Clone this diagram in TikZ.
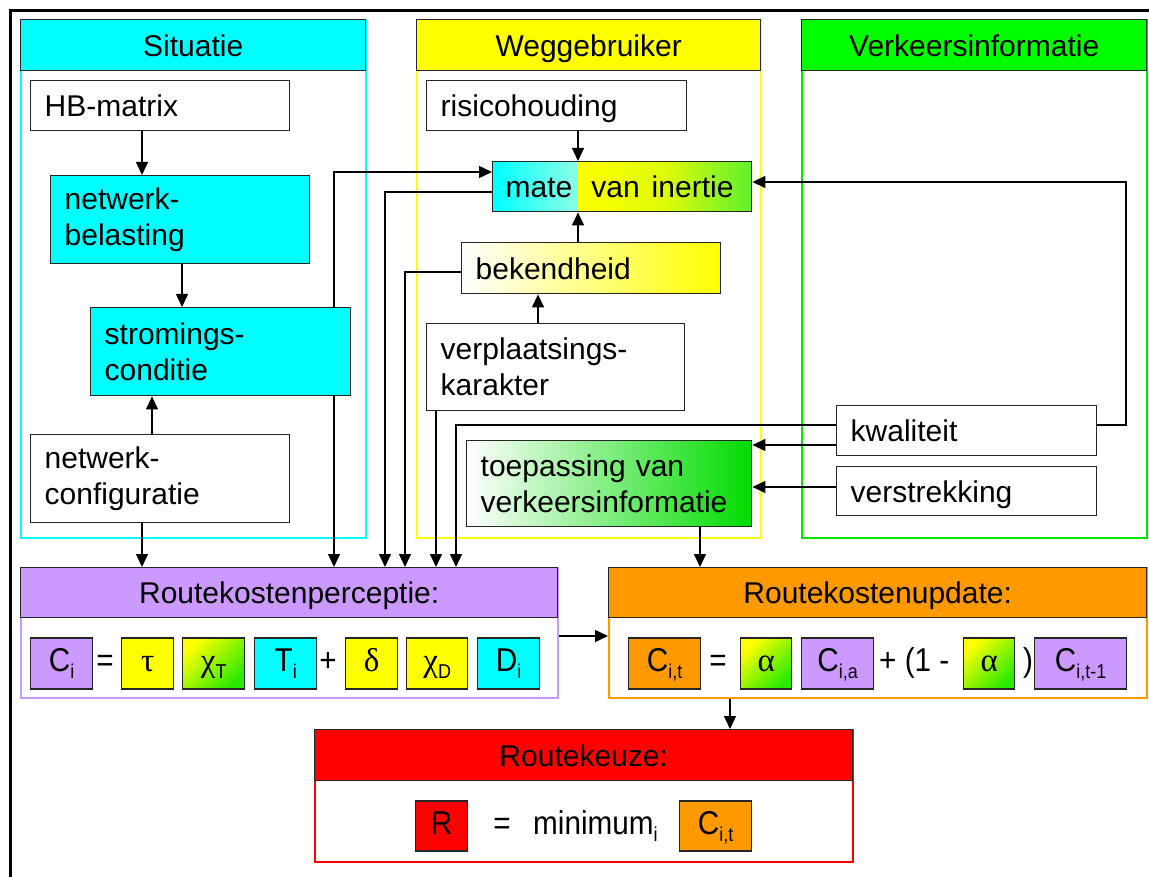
\documentclass[tikz,border=0pt]{standalone}
\usepackage{fontspec}
\setmainfont{Liberation Sans}
\newfontfamily\grk{Liberation Serif}
\newfontfamily\fmf[FakeStretch=0.9]{Liberation Sans}
\usetikzlibrary{arrows.meta}
\definecolor{cyn}{RGB}{0,255,255}
\definecolor{yel}{RGB}{255,255,0}
\definecolor{grn}{RGB}{0,255,0}
\definecolor{pnlgrn}{RGB}{0,230,0}
\definecolor{pur}{RGB}{204,153,255}
\definecolor{org}{RGB}{255,153,0}
\definecolor{rd}{RGB}{255,0,0}
\definecolor{mgrn}{RGB}{95,240,45}
\definecolor{dgrn}{RGB}{40,235,0}
\definecolor{tgrn}{RGB}{0,220,0}
\definecolor{mpale}{RGB}{215,255,215}
\newcommand{\sbs}[1]{\raisebox{-7pt}{\fontsize{20}{20}\selectfont #1}}
\begin{document}
\begin{tikzpicture}[x=1pt,y=-1pt,
  every node/.style={font=\fontsize{30}{36}\selectfont, inner sep=0pt},
  box/.style={draw=black!85, line width=1.4pt, anchor=north west, align=left, inner xsep=14pt, inner ysep=0pt},
  one/.style={text height=22, text depth=0},
  hdr/.style={draw=black!85, line width=1.4pt, anchor=north west, align=center, text height=22, text depth=0},
  panel/.style={line width=1.8pt, anchor=north west},
  fb/.style={draw=black!85, line width=1.4pt, anchor=west, minimum height=51, text height=24, text depth=8, font=\fmf\fontsize{33}{36}\selectfont},
  ft/.style={text height=24, text depth=8, font=\fmf\fontsize{33}{36}\selectfont},
  arr/.style={line width=1.3pt, -{Triangle[length=13pt,width=12pt]}},
  ln/.style={line width=1.3pt},
]
\useasboundingbox (0,0) rectangle (1149,877);
\fill[white] (0,0) rectangle (1149,877);

% coordinates for connector routing
\coordinate (c142) at (142,0);
\coordinate (c152) at (152,0);
\coordinate (c182) at (182,0);
\coordinate (c334) at (334,0);
\coordinate (c385) at (385,0);
\coordinate (c405) at (405,0);
\coordinate (c436) at (436,0);
\coordinate (c456) at (456,0);
\coordinate (c538) at (538,0);
\coordinate (c578) at (578,0);
\coordinate (c700) at (700,0);
\coordinate (c730) at (730,0);
\coordinate (c1126) at (1126,0);
\coordinate (y172) at (0,172);
\coordinate (y182) at (0,182);
\coordinate (y192) at (0,192);
\coordinate (y272) at (0,272);
\coordinate (y425) at (0,425);
\coordinate (y445) at (0,445);
\coordinate (y487) at (0,487);
\coordinate (y636) at (0,636);

% outer frame
\draw[line width=3.5pt] (10.5,890) -- (10.5,10.5) -- (1160,10.5);

% panels
\node[panel, draw=cyn, minimum width=345, minimum height=518] (sitp) at (20,19) {};
\node[panel, draw=yel, minimum width=344, minimum height=518] (wegp) at (416,19) {};
\node[panel, draw=pnlgrn, minimum width=345, minimum height=518] (vip) at (801,19) {};
\node[hdr, fill=cyn, minimum width=345, minimum height=51] (sit) at (20,19) {Situatie};
\node[hdr, fill=yel, minimum width=344, minimum height=51] (weg) at (416,19) {Weggebruiker};
\node[hdr, fill=grn, minimum width=345, minimum height=51] (vi) at (801,19) {Verkeersinformatie};

% situatie nodes
\node[box, one, fill=white, text width=231, minimum height=50] (hb) at (30,80) {HB-matrix};
\node[box, fill=cyn, text width=231, minimum height=88] (belast) at (50,175) {netwerk-\\belasting};
\node[box, fill=cyn, text width=232, minimum height=88] (strom) at (90,307) {stromings-\\conditie};
\node[box, fill=white, text width=231, minimum height=88] (config) at (30,434) {netwerk-\\configuratie};

% weggebruiker nodes
\node[box, one, fill=white, text width=232, minimum height=50] (risico) at (426,80) {risicohouding};
\node[box, one, inner xsep=13pt, text width=233, minimum height=50,
  path picture={
    \shade[left color=cyn, right color=yel!75!white, middle color=mpale]
      (path picture bounding box.north west) rectangle (path picture bounding box.south -| c578);
    \shade[left color=yel, right color=mgrn, middle color=yel!80!mgrn]
      (path picture bounding box.north -| c578) rectangle (path picture bounding box.south east);
  }] (mate) at (492,161) {mate\hspace{19pt}van\hspace{12pt}inertie};
\node[box, one, left color=white, right color=yel, text width=231, minimum height=51] (bek) at (461,242) {bekendheid};
\node[box, fill=white, text width=230, minimum height=87] (verpl) at (426,323) {verplaatsings-\\karakter};
\node[box, left color=white, right color=tgrn, text width=257, minimum height=86] (toep) at (466,440) {toepassing van\\verkeersinformatie};

% verkeersinformatie nodes
\node[box, one, fill=white, text width=232, minimum height=50] (kwal) at (836,405) {kwaliteit};
\node[box, one, fill=white, text width=232, minimum height=49] (verstr) at (836,466) {verstrekking};

% bottom blocks
\node[panel, draw=pur, minimum width=537, minimum height=130] (rkpp) at (20,567) {};
\node[hdr, fill=pur, minimum width=537, minimum height=50] (rkp) at (20,567) {Routekostenperceptie:};
\node[panel, draw=org, minimum width=538, minimum height=130] (rkup) at (608,567) {};
\node[hdr, fill=org, minimum width=538, minimum height=50] (rku) at (608,567) {Routekostenupdate:};
\node[panel, draw=rd, minimum width=538, minimum height=132] (rkzp) at (314,729) {};
\node[hdr, fill=rd, minimum width=538, minimum height=51] (rkz) at (314,729) {Routekeuze:};

% formula: route cost perception
\node[fb, fill=pur, minimum width=62] (ci) at (30,663.5) {C\sbs{i}};
\node[ft] (eqa) at (105,663.5) {=};
\node[fb, fill=yel, minimum width=52] (tau) at (121,663.5) {{\grk τ}};
\node[fb, top color=yel, bottom color=dgrn, shading angle=45, minimum width=62] (chit) at (182,663.5) {{\grk χ}\sbs{T}};
\node[fb, fill=cyn, minimum width=62] (ti) at (254,663.5) {T\sbs{i}};
\node[ft] (plusa) at (328,663.5) {+};
\node[fb, fill=yel, minimum width=52] (delta) at (345,663.5) {{\grk δ}};
\node[fb, fill=yel, minimum width=61] (chid) at (406,663.5) {{\grk χ}\sbs{D}};
\node[fb, fill=cyn, minimum width=62] (di) at (477,663.5) {D\sbs{i}};

% formula: route cost update
\node[fb, fill=org, minimum width=72] (cit) at (628,663.5) {C\sbs{i,t}};
\node[ft] (eqb) at (718,663.5) {=};
\node[fb, top color=yel, bottom color=dgrn, shading angle=45, minimum width=51] (alpa) at (740,663.5) {{\grk α}};
\node[fb, fill=pur, minimum width=72] (cia) at (801,663.5) {C\sbs{i,a}};
\node[ft, anchor=west] (onem) at (879,663.5) {+ (1 -};
\node[fb, top color=yel, bottom color=dgrn, shading angle=45, minimum width=51] (alpb) at (963,663.5) {{\grk α}};
\node[ft] (cpar) at (1028,663.5) {)};
\node[fb, fill=pur, minimum width=92] (citm) at (1034,663.5) {C\sbs{i,t-1}};

% formula: route choice
\node[fb, fill=rd, minimum width=52, minimum height=50] (r) at (415,826) {R};
\node[ft] (eqc) at (502,826) {=};
\node[ft, anchor=west] (mini) at (533,826) {minimum\sbs{i}};
\node[fb, fill=org, minimum width=72, minimum height=50] (citb) at (679,826) {C\sbs{i,t}};

% connectors within Situatie
\draw[arr] (hb.south -| c142) -- (belast.north -| c142);
\draw[arr] (belast.south -| c182) -- (strom.north -| c182);
\draw[arr] (config.north -| c152) -- (strom.south -| c152);
\draw[arr] (config.south -| c142) -- (rkp.north -| c142);
\draw[arr] (strom.north -| c334) |- (mate.west |- y172);
\draw[arr] (strom.south -| c334) -- (rkp.north -| c334);

% connectors within Weggebruiker
\draw[arr] (risico.south -| c578) -- (mate.north -| c578);
\draw[arr] (bek.north -| c578) -- (mate.south -| c578);
\draw[arr] (verpl.north -| c538) -- (bek.south -| c538);
\draw[arr] (mate.west |- y192) -| (rkp.north -| c385);
\draw[arr] (bek.west |- y272) -| (rkp.north -| c405);
\draw[arr] (verpl.south -| c436) -- (rkp.north -| c436);
\draw[arr] (toep.south -| c700) -- (rku.north -| c700);

% connectors from Verkeersinformatie
\draw[arr] (kwal.west |- y425) -| (rkp.north -| c456);
\draw[arr] (kwal.west |- y445) -- (toep.east |- y445);
\draw[arr] (verstr.west |- y487) -- (toep.east |- y487);
\draw[arr] (kwal.east |- y425) -- (c1126 |- y425) -- (c1126 |- y182) -- (mate.east |- y182);

% bottom connectors
\draw[arr] (rkpp.east |- y636) -- (rkup.west |- y636);
\draw[arr] (rkup.south -| c730) -- (rkz.north -| c730);
\end{tikzpicture}
\end{document}
